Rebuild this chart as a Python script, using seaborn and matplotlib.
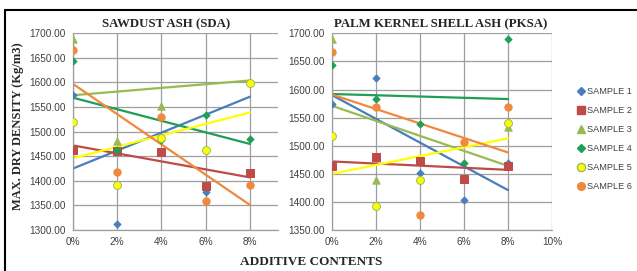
import matplotlib
matplotlib.use("Agg")
import matplotlib.pyplot as plt
import numpy as np
import pandas as pd
import seaborn as sns
from matplotlib.lines import Line2D

# Valores (densidade seca máxima, kg/m3)
teores = [0, 2, 4, 6, 8]
amostras = ["SAMPLE 1", "SAMPLE 2", "SAMPLE 3", "SAMPLE 4", "SAMPLE 5", "SAMPLE 6"]

sda_s1 = [1575, 1312, np.nan, 1378, np.nan]
sda_s2 = [1463, 1461, 1459, 1390, 1416]
sda_s3 = [1688, 1480, 1552, np.nan, np.nan]
sda_s4 = [1644, 1462, 1483, 1534, 1485]
sda_s5 = [1520, 1391, 1488, 1463, 1598]
sda_s6 = [1666, 1417, 1530, 1358, 1391]

pksa_s1 = [1574, 1620, 1451, 1403, 1470]
pksa_s2 = [1463, 1480, 1472, 1440, 1463]
pksa_s3 = [1689, 1439, np.nan, np.nan, 1534]
pksa_s4 = [1644, 1583, 1538, 1470, 1689]
pksa_s5 = [1518, 1392, 1439, np.nan, 1541]
pksa_s6 = [1666, 1569, 1377, 1507, 1568]

# Linhas de tendência (valor em 0% e em 8%)
sda_tend_ini = [1425, 1472, 1574, 1569, 1446, 1597]
sda_tend_fim = [1571, 1407, 1604, 1475, 1539, 1351]
pksa_tend_ini = [1590, 1472, 1571, 1592, 1450, 1591]
pksa_tend_fim = [1421, 1457, 1464, 1583, 1513, 1488]

cores = ["#4A7EBB", "#BE4B48", "#98B954", "#1F9E55", "#FFFF00", "#F0883E"]
bordas = ["#4A7EBB", "#BE4B48", "#98B954", "#1F9E55", "#9BBB59", "#F0883E"]
marcadores = ["D", "s", "^", "D", "o", "o"]
tamanhos = [13, 30, 28, 13, 32, 28]


def monta_tabela(series):
    linhas = []
    for nome, valores in zip(amostras, series):
        for x, v in zip(teores, valores):
            linhas.append({"teor": x, "densidade": v, "amostra": nome})
    return pd.DataFrame(linhas)


def monta_tendencia(ini, fim):
    linhas = []
    for nome, a, b in zip(amostras, ini, fim):
        linhas.append({"teor": 0, "densidade": a, "amostra": nome})
        linhas.append({"teor": 8, "densidade": b, "amostra": nome})
    return pd.DataFrame(linhas)


tabela_sda = monta_tabela([sda_s1, sda_s2, sda_s3, sda_s4, sda_s5, sda_s6])
tabela_pksa = monta_tabela([pksa_s1, pksa_s2, pksa_s3, pksa_s4, pksa_s5, pksa_s6])
tend_sda = monta_tendencia(sda_tend_ini, sda_tend_fim)
tend_pksa = monta_tendencia(pksa_tend_ini, pksa_tend_fim)

sns.set_theme(style="white")
plt.rcParams["font.family"] = ["Liberation Sans", "DejaVu Sans"]

fig = plt.figure(figsize=(6.37, 2.71), dpi=100)
ax1 = fig.add_axes([73 / 637, 1 - 230 / 271, 205 / 637, (230 - 33.3) / 271])
ax2 = fig.add_axes([332 / 637, 1 - 230 / 271, 220 / 637, (230 - 33.3) / 271])


def desenha(ax, tabela, tendencia, ymin, ymax, xmax, xticks):
    paleta = dict(zip(amostras, cores))
    sns.lineplot(data=tendencia, x="teor", y="densidade", hue="amostra",
                 palette=paleta, linewidth=1.6, legend=False, ax=ax, zorder=2)
    for i, nome in enumerate(amostras):
        dados = tabela[tabela["amostra"] == nome].dropna()
        sns.scatterplot(data=dados, x="teor", y="densidade", marker=marcadores[i],
                        s=tamanhos[i], color=cores[i], edgecolor=bordas[i],
                        linewidth=0.7, legend=False, ax=ax, zorder=3)
    ax.set_xlim(0, xmax)
    ax.set_ylim(ymin, ymax)
    ax.set_yticks(np.arange(ymin, ymax + 1, 50))
    ax.set_yticklabels([f"{v:.2f}" for v in np.arange(ymin, ymax + 1, 50)])
    ax.set_xticks(xticks)
    ax.set_xticklabels([f"{t}%" for t in xticks])
    ax.grid(True, color="#9E9E9E", linewidth=0.9)
    ax.set_axisbelow(True)
    for lado in ["top", "right"]:
        ax.spines[lado].set_visible(False)
    for lado in ["left", "bottom"]:
        ax.spines[lado].set_color("#9E9E9E")
        ax.spines[lado].set_linewidth(0.9)
    ax.tick_params(axis="both", labelsize=7.2, colors="#404040", length=3,
                   width=0.8, pad=2)
    ax.tick_params(axis="both", color="#9E9E9E")
    ax.set_xlabel("")
    ax.set_ylabel("")


desenha(ax1, tabela_sda, tend_sda, 1300, 1700, 9.27, [0, 2, 4, 6, 8])
desenha(ax2, tabela_pksa, tend_pksa, 1350, 1700, 10, [0, 2, 4, 6, 8, 10])

serif = ["Liberation Serif", "DejaVu Serif"]
fig.text(166 / 637, 1 - 24 / 271, "SAWDUST ASH (SDA)", family=serif,
         fontweight="bold", fontsize=9.3, ha="center", va="center", color="#262626")
fig.text(441 / 637, 1 - 24 / 271, "PALM KERNEL SHELL ASH (PKSA)", family=serif,
         fontweight="bold", fontsize=9.3, ha="center", va="center", color="#262626")
fig.text(18 / 637, 1 - 126 / 271, "MAX. DRY DENSITY (Kg/m3)", family=serif,
         fontweight="bold", fontsize=9, rotation=90, ha="center", va="center",
         color="#262626")
fig.text(311 / 637, 1 - 262 / 271, "ADDITIVE CONTENTS", family=serif,
         fontweight="bold", fontsize=9.5, ha="center", va="center", color="#262626")

# Legenda
alcas = [Line2D([], [], linestyle="none", marker=marcadores[i], color=cores[i],
                markeredgecolor=bordas[i], markersize=np.sqrt(tamanhos[i]) * 1.05)
         for i in range(len(amostras))]
fig.legend(alcas, amostras, loc="center left", bbox_to_anchor=(573 / 637, 1 - 139 / 271),
           frameon=False, fontsize=6.6, labelspacing=1.1, handlelength=0.7,
           handletextpad=0.35, borderpad=0, labelcolor="#404040")

# Moldura
fig.add_artist(Line2D([5 / 637, 5 / 637], [0, 1 - 10 / 271], color="black", linewidth=1.5))
fig.add_artist(Line2D([5 / 637, 1], [1 - 10 / 271, 1 - 10 / 271], color="black", linewidth=1.5))

fig.savefig("out.png", dpi=100)
